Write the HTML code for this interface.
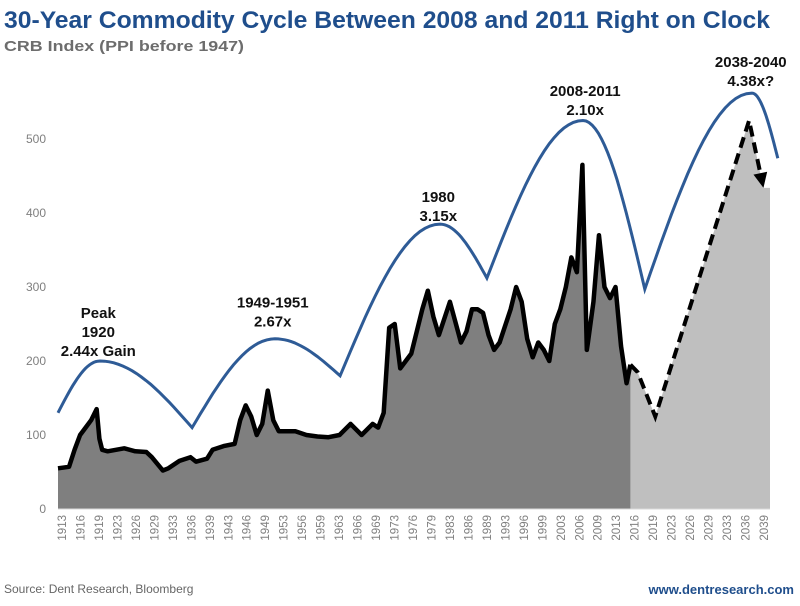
<!DOCTYPE html>
<html><head><meta charset="utf-8"><style>
body{margin:0;background:#fff;}
svg{display:block;font-family:"Liberation Sans",Arial,sans-serif;}
</style></head><body>
<svg id="c" width="800" height="606" viewBox="0 0 800 606">
<text x="4" y="28" font-size="24" font-weight="bold" fill="#1f4e8c" textLength="766" lengthAdjust="spacingAndGlyphs">30-Year Commodity Cycle Between 2008 and 2011 Right on Clock</text>
<text x="4" y="51" font-size="15" font-weight="bold" fill="#6d6d6d" textLength="240" lengthAdjust="spacingAndGlyphs">CRB Index (PPI before 1947)</text>
<text x="4" y="593" font-size="12" fill="#666">Source: Dent Research, Bloomberg</text>
<text x="794" y="594" font-size="13" font-weight="bold" fill="#1f4e8c" text-anchor="end">www.dentresearch.com</text>
<g id="plot"></g>
</svg>
<script>
const histYears=[1913,1915,1916,1917,1918,1919,1920,1920.5,1921,1922,1925,1927,1929,1930,1932,1933,1935,1937,1938,1940,1941,1943,1945,1946,1947,1948,1949,1950,1951,1952,1953,1956,1958,1960,1962,1964,1966,1968,1970,1971,1972,1973,1974,1975,1976,1977,1979,1980,1981,1982,1984,1986,1987,1988,1989,1990,1991,1992,1993,1995,1996,1997,1998,1999,2000,2001,2002,2003,2004,2005,2006,2007,2008,2008.8,2009,2010,2011,2012,2013,2014,2015,2016,2016.7];
const histValues=[55,57,80,100,110,120,135,95,80,78,82,78,77,70,52,55,65,70,64,68,80,85,88,120,140,125,100,115,160,120,105,105,100,98,97,100,115,100,115,110,130,245,250,190,200,210,270,295,260,235,280,225,240,270,270,265,235,215,225,270,300,280,230,205,225,215,200,250,270,300,340,320,465,215,225,280,370,300,285,300,220,170,195];
const projYears=[2016.7,2018,2021.2,2038.2,2040.8];
const projValues=[195,185,125,525,434];
const cycleYears=[1913,1920.6,1937.3,1952.3,1964.1,1982.2,1990.7,2008.1,2019.3,2038.7,2043.4];
const cycleValues=[130,200,110,230,180,385,312,525,297,562,474];
const yTicks=[0,100,200,300,400,500];
const xLabels=[1913,1916,1919,1923,1926,1929,1933,1936,1939,1943,1946,1949,1953,1956,1959,1963,1966,1969,1973,1976,1979,1983,1986,1989,1993,1996,1999,2003,2006,2009,2013,2016,2019,2023,2026,2029,2033,2036,2039];
const annotations=[["Peak|1920|2.44x Gain",1920.3,258],["1949-1951|2.67x",1951.9,272],["1980|3.15x",1981.9,415],["2008-2011|2.10x",2008.5,558],["2038-2040|4.38x?",2038.5,597]];

const X=y=>58+(y-1913)*5.52, Y=v=>509-0.74*v;
const NS="http://www.w3.org/2000/svg", g=document.getElementById('plot');
function mk(t,a){const e=document.createElementNS(NS,t);for(const k in a)e.setAttribute(k,a[k]);g.appendChild(e);return e;}
const x0=X(1913), xEnd=770;
let p=`M${X(projYears[0])},${Y(0)}`;projYears.forEach((y,i)=>p+=`L${X(y)},${Y(projValues[i])}`);
p+=`L${xEnd},${Y(projValues[projValues.length-1])}L${xEnd},${Y(0)}Z`;
let e=mk('path',{d:p,fill:'#bfbfbf'});


let d=`M${x0},${Y(0)}`;histYears.forEach((y,i)=>d+=`L${X(y)},${Y(histValues[i])}`);d+=`L${X(histYears[histYears.length-1])},${Y(0)}Z`;
e=mk('path',{d:d,fill:'#7f7f7f'});


let l='';histYears.forEach((y,i)=>l+=(i?'L':'M')+X(y)+','+Y(histValues[i]));
e=mk('path',{d:l,fill:'none',stroke:'#000','stroke-width':4.5,'stroke-linejoin':'round'});


let pl='';projYears.slice(0,-1).forEach((y,i)=>pl+=(i?'L':'M')+X(y)+','+Y(projValues[i]));
const n=projYears.length, ax=X(projYears[n-2]),ay=Y(projValues[n-2]),bx=X(projYears[n-1]),by=Y(projValues[n-1]);
const ang=Math.atan2(by-ay,bx-ax), sx=bx-12*Math.cos(ang), sy=by-12*Math.sin(ang);
pl+=`L${sx},${sy}`;
e=mk('path',{d:pl,fill:'none',stroke:'#000','stroke-width':4,'stroke-dasharray':'11,6'});


const px=-Math.sin(ang),py=Math.cos(ang);
e=mk('polygon',{points:`${bx},${by} ${sx+7*px-3*Math.cos(ang)},${sy+7*py-3*Math.sin(ang)} ${sx-7*px-3*Math.cos(ang)},${sy-7*py-3*Math.sin(ang)}`,fill:'#000'});


let c=`M${X(cycleYears[0])},${Y(cycleValues[0])}`;
for(let i=1;i<cycleYears.length;i++){const a=cycleValues[i-1],b=cycleValues[i],rising=b>a;
 for(let k=1;k<=20;k++){const t=k/20;const yr=cycleYears[i-1]+(cycleYears[i]-cycleYears[i-1])*t;
  const v=rising?a+(b-a)*Math.sin(t*Math.PI/2):a+(b-a)*(1-Math.cos(t*Math.PI/2));
  c+=`L${X(yr).toFixed(1)},${Y(v).toFixed(1)}`;}}
e=mk('path',{d:c,fill:'none',stroke:'#2e5b96','stroke-width':3});


e=mk('line',{x1:x0,x2:xEnd,y1:Y(0),y2:Y(0),stroke:'#d9d9d9','stroke-width':1});


yTicks.forEach(v=>{const t=mk('text',{x:46,y:Y(v)+4,'font-size':12,fill:'#7f7f7f','text-anchor':'end'});t.textContent=v;

});
xLabels.forEach((yr,i)=>{const x=62+i*(764-62)/(xLabels.length-1);
const t=mk('text',{x:0,y:0,'font-size':11.5,fill:'#7f7f7f','text-anchor':'end',transform:`translate(${x+4},${515}) rotate(-90)`});t.textContent=yr;

});
annotations.forEach(a=>{const lines=a[0].split('|');const x=X(a[1]);const top=Y(a[2]);
lines.forEach((s,j)=>{const t=mk('text',{x:x,y:top+j*19,'font-size':15,'font-weight':'bold',fill:'#111','text-anchor':'middle'});t.textContent=s;

});});
</script>
</body></html>
